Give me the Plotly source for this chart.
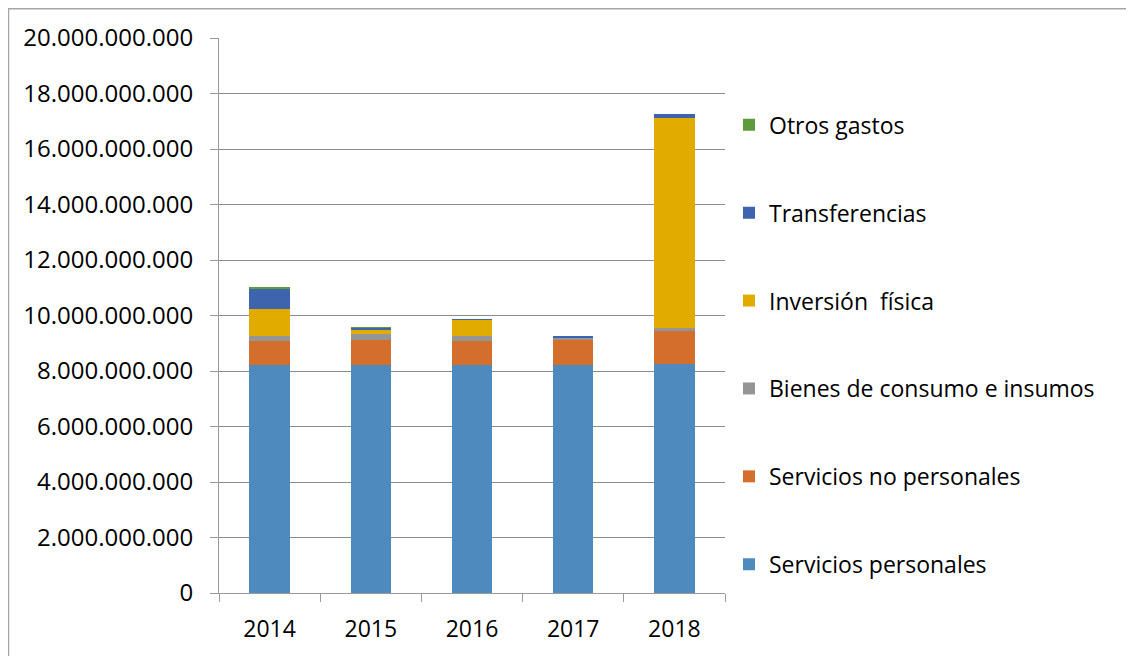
import plotly.graph_objects as go

years = ["2014", "2015", "2016", "2017", "2018"]
servicios_personales = [8.20e9, 8.20e9, 8.23e9, 8.21e9, 8.26e9]
servicios_no_personales = [0.89e9, 0.91e9, 0.855e9, 0.91e9, 1.17e9]
bienes_consumo = [0.18e9, 0.22e9, 0.18e9, 0.07e9, 0.13e9]
inversion_fisica = [0.96e9, 0.17e9, 0.58e9, 0.0, 7.57e9]
transferencias = [0.76e9, 0.06e9, 0.02e9, 0.05e9, 0.13e9]
otros_gastos = [0.02e9, 0.01e9, 0.0, 0.0, 0.0]

series = [
    ("Servicios personales", servicios_personales, "#4F8ABE"),
    ("Servicios no personales", servicios_no_personales, "#D46E2C"),
    ("Bienes de consumo e insumos", bienes_consumo, "#959595"),
    ("Inversión  física", inversion_fisica, "#E2AB00"),
    ("Transferencias", transferencias, "#3D64AD"),
    ("Otros gastos", otros_gastos, "#5E9B3C"),
]

FONT = "Open Sans"

fig = go.Figure()
n = len(series)
for i, (name, vals, col) in enumerate(series):
    fig.add_trace(go.Bar(
        x=years, y=vals, name=name, marker=dict(color=col, line=dict(width=0)),
        legendgroup=f"g{n - i}", legendrank=n - i,
    ))

# page body has an 8px margin; work in page pixels and offset
OFF = 8
W, H = 1134 - OFF, 656 - OFF
L, R, T, B = 219 - OFF, 725 - OFF, 34 - OFF, 595 - OFF
pw, ph = R - L, B - T

def px_x(p):
    return (p - OFF - L) / pw

def px_y(p):
    return (B - (p - OFF)) / ph

fig.update_layout(
    width=W, height=H,
    barmode="stack", bargap=0.6,
    separators=",.",
    margin=dict(l=L, r=W - R, t=T, b=H - B, pad=0),
    paper_bgcolor="white", plot_bgcolor="white",
    font=dict(family=FONT, size=23, color="#000000"),
    legend=dict(
        traceorder="grouped", tracegroupgap=55,
        x=px_x(729), xanchor="left", y=px_y(100), yanchor="top",
        font=dict(family=FONT, size=23, color="#000000"),
        bgcolor="rgba(0,0,0,0)", itemclick=False,
    ),
    xaxis=dict(
        showline=True, linecolor="#9a9a9a", linewidth=1,
        ticks="outside", ticklen=8, tickcolor="#9a9a9a", tickson="boundaries",
        showgrid=False, ticklabelstandoff=15,
        tickfont=dict(family=FONT, size=23, color="#000000"),
    ),
    yaxis=dict(
        range=[0, 20e9], dtick=2e9, tick0=0, tickformat=",.0f",
        showline=True, linecolor="#9a9a9a", linewidth=1,
        ticks="outside", ticklen=8, tickcolor="#9a9a9a",
        showgrid=True, gridcolor="#8c8c8c", gridwidth=1,
        zeroline=False, ticklabelstandoff=12,
        tickfont=dict(family=FONT, size=24, color="#000000"),
    ),
    shapes=[dict(
        type="rect", xref="paper", yref="paper",
        x0=px_x(8.5), x1=px_x(1145), y0=px_y(4.5), y1=px_y(670),
        line=dict(color="#a6a6a6", width=1.5), fillcolor="rgba(0,0,0,0)", layer="below",
    )],
)

fig.write_html("out.html")
